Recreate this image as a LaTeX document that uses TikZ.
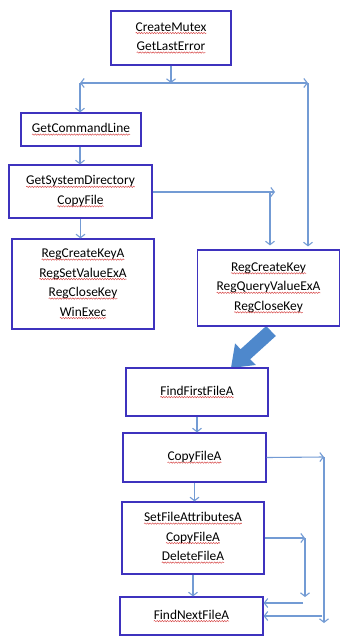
\documentclass[tikz,border=0pt]{standalone}
\usepackage{fontspec}
\setmainfont{Carlito}
\usetikzlibrary{arrows.meta,decorations.pathmorphing}
\definecolor{boxc}{RGB}{62,50,190}
\definecolor{linec}{RGB}{115,155,212}
\definecolor{fatc}{RGB}{78,136,204}
\definecolor{squigc}{RGB}{215,70,70}
\newcommand\sq[1]{\tikz[baseline=(sqt.base)]{\node[inner sep=0pt,outer sep=0pt,minimum width=0pt,minimum height=0pt,draw=none,fill=none,align=left](sqt){#1};\draw[squigc,line width=0.45pt,decorate,decoration={snake,amplitude=0.7pt,segment length=2.6pt}]([yshift=-1.8pt]sqt.base west)--([yshift=-1.8pt]sqt.base east);}}
\begin{document}
\begin{tikzpicture}[x=1pt,y=-1pt,
 box/.style={draw=boxc,line width=1.2pt,fill=white,align=center,inner sep=0pt,font=\fontsize{13.4}{19.5}\selectfont},
 con/.style={draw=linec,line width=1.1pt,-{Straight Barb[length=3.5pt,width=9pt]}},
 fatarrow/.style={fill=fatc,draw=none}]
\useasboundingbox (0,0) rectangle (341,636);
% fat arrow
\fill[fatarrow] (266.2,326) -- (275.8,336) -- (250.2,359.2) -- (255.75,365) -- (231,368) -- (235.05,343.4) -- (240.6,349.2) -- cycle;
% boxes
\node[box,minimum width=120pt,minimum height=54pt] (b1) at (171,38) {\sq{CreateMutex}\\\sq{GetLastError}};
\node[box,minimum width=120pt,minimum height=33pt] (b2) at (81,129.5) {\sq{GetCommandLine}};
\node[box,minimum width=143pt,minimum height=53pt] (b3) at (80.5,191.5) {\sq{GetSystemDirectory}\\\sq{CopyFile}};
\node[box,minimum width=142pt,minimum height=90pt] (b4) at (83,284) {\sq{RegCreateKeyA}\\\sq{RegSetValueExA}\\\sq{RegCloseKey}\\\sq{WinExec}};
\node[box,minimum width=142pt,minimum height=76pt] (b5) at (268.5,288) {\sq{RegCreateKey}\\\sq{RegQueryValueExA}\\\sq{RegCloseKey}};
\node[box,minimum width=142pt,minimum height=48pt] (b6) at (197,392) {\sq{FindFirstFileA}};
\node[box,minimum width=143pt,minimum height=49pt] (b7) at (194.5,457.5) {\sq{CopyFileA}};
\node[box,minimum width=142pt,minimum height=72pt] (b8) at (193,538) {\sq{SetFileAttributesA}\\\sq{CopyFileA}\\\sq{DeleteFileA}};
\node[box,minimum width=143pt,minimum height=38pt] (b9) at (191.5,616) {\sq{FindNextFileA}};
% junction coordinates
\coordinate (j) at (171,83);
\coordinate (jl) at (80,83);
\coordinate (jr) at (308,83);
\coordinate (k) at (275,192);
\coordinate (k2) at (270,192);
\coordinate (r1) at (324,457);
\coordinate (r1b) at (324,623);
\coordinate (r1c) at (322,616);
\coordinate (r2) at (305,538);
\coordinate (r2b) at (305,597);
\coordinate (r2c) at (303,603);
% connectors
\draw[con] (b1.south) -- (j);
\draw[con] (j) -- (jl);
\draw[con] (j) -- (jr);
\draw[con] (jl) -- (jl |- b2.north);
\draw[con] (jr) -- ([yshift=3pt]jr |- b5.north);
\draw[con] (b2.south -| jl) -- (jl |- b3.north);
\draw[con] (b3.east |- k) -- (k);
\draw[con] (k2) -- ([yshift=4pt]k2 |- b5.north);
\draw[con] (b3.south) -- (b3.south |- b4.north);
\draw[con] (b6.south) -- (b6.south |- b7.north);
\draw[con] (b7.east) -- (r1);
\draw[con] (r1) -- (r1b);
\draw[con] (r1c) -- (r1c -| b9.east);
\draw[con] (b7.south) -- (b7.south |- b8.north);
\draw[con] (b8.east) -- (r2);
\draw[con] (r2) -- (r2b);
\draw[con] (r2c) -- (r2c -| b9.east);
\draw[con] (b8.south) -- (b8.south |- b9.north);
\end{tikzpicture}
\end{document}
